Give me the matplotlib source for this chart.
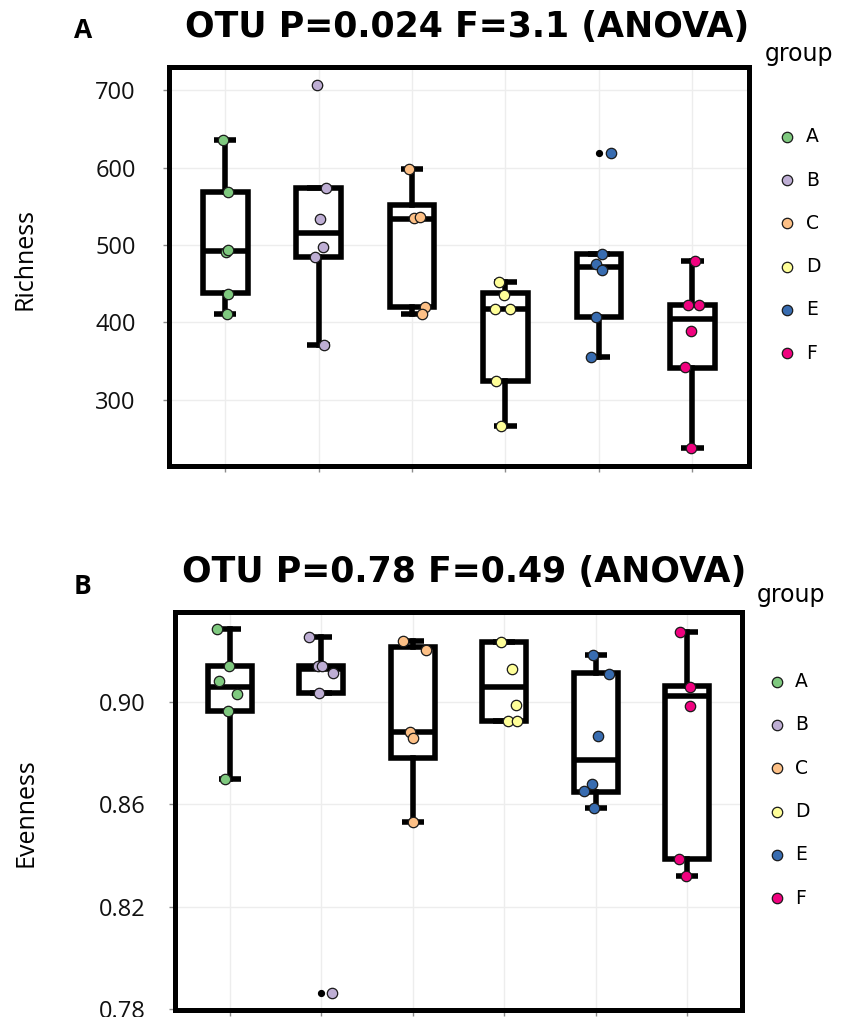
import matplotlib
matplotlib.use("Agg")
import matplotlib.pyplot as plt
from matplotlib.lines import Line2D

W, H = 848, 1017

groups = ["A", "B", "C", "D", "E", "F"]
colors = ["#7FC97F", "#BEAED4", "#FDC086", "#FFFF99", "#386CB0", "#F0027F"]

# Richness (OTU counts) per sample
rich_values = [
    [636, 568, 491, 493, 437, 411],
    [706, 573, 533, 497, 485, 371],
    [598, 535, 536, 420, 411],
    [452, 435, 418, 418, 324, 266],
    [619, 489, 475, 468, 407, 356],
    [479, 422, 422, 389, 342, 238],
]
rich_jitter = [
    [-0.02, 0.03, 0.015, 0.035, 0.036, 0.018],
    [-0.012, 0.083, 0.012, 0.051, -0.037, 0.054],
    [-0.031, 0.022, 0.083, 0.136, 0.107],
    [-0.065, -0.012, -0.108, 0.052, -0.1, -0.047],
    [0.134, 0.028, -0.036, 0.034, -0.03, -0.089],
    [0.029, -0.05, 0.071, -0.018, -0.078, -0.018],
]
# box summaries: lower whisker, Q1, median, Q3, upper whisker, outliers
rich_lo = [411, 371, 411, 266, 356, 238]
rich_q1 = [438, 485, 420, 324, 407, 341]
rich_med = [492, 515, 534, 418, 472, 405]
rich_q3 = [569, 573, 552, 438, 489, 423]
rich_hi = [636, 573, 598, 452, 489, 479]
rich_out = [[], [706], [], [], [619], []]

# Evenness per sample
even_values = [
    [0.9285, 0.9141, 0.9082, 0.9031, 0.8962, 0.8698],
    [0.9252, 0.9141, 0.9141, 0.9112, 0.9034, 0.7864],
    [0.9238, 0.9202, 0.8883, 0.8857, 0.8532],
    [0.9234, 0.9128, 0.8986, 0.8923, 0.8923],
    [0.9184, 0.9108, 0.8867, 0.8678, 0.8651, 0.8587],
    [0.9272, 0.9058, 0.8984, 0.8387, 0.8318],
]
even_jitter = [
    [-0.146, -0.011, -0.12, 0.08, -0.025, -0.055],
    [-0.135, -0.033, 0.011, 0.131, -0.022, 0.114],
    [-0.103, 0.146, -0.029, 0.0, 0.0],
    [-0.03, 0.084, 0.131, 0.04, 0.145],
    [-0.033, 0.142, 0.022, -0.04, -0.124, -0.014],
    [-0.081, 0.036, 0.036, -0.092, -0.008],
]
even_lo = [0.8698, 0.9034, 0.8532, 0.8923, 0.8587, 0.8318]
even_q1 = [0.8962, 0.9034, 0.8779, 0.8923, 0.8648, 0.8387]
even_med = [0.9056, 0.9127, 0.8883, 0.9056, 0.8773, 0.9024]
even_q3 = [0.9141, 0.9141, 0.9215, 0.9234, 0.9112, 0.9060]
even_hi = [0.9285, 0.9252, 0.9238, 0.9234, 0.9184, 0.9272]
even_out = [[], [0.7864], [], [], [], []]

rich_ticks = [300, 400, 500, 600, 700]
even_ticks = [0.78, 0.82, 0.86, 0.90]

TICK_FONT = "Open Sans"
TITLE_FONT = "DejaVu Sans"


def fx(x):
    return x / W


def fy(y):
    return 1 - y / H


def draw_panel(ax, values, jitter, lo, q1, med, q3, hi, out, ylim, ticks, fmt, pad):
    stats = []
    for i in range(len(groups)):
        stats.append({
            "whislo": lo[i], "q1": q1[i], "med": med[i],
            "q3": q3[i], "whishi": hi[i], "fliers": out[i],
        })
    ax.bxp(
        stats,
        positions=range(len(groups)),
        widths=0.48,
        capwidths=0.24,
        patch_artist=True,
        boxprops=dict(facecolor="white", edgecolor="black", linewidth=4.0),
        whiskerprops=dict(color="black", linewidth=4.0),
        capprops=dict(color="black", linewidth=4.0, solid_capstyle="butt"),
        medianprops=dict(color="black", linewidth=4.0, solid_capstyle="butt"),
        flierprops=dict(marker="o", markerfacecolor="black", markeredgecolor="black",
                        markersize=4.2),
        manage_ticks=False,
        zorder=2,
    )
    for i, (vals, jit) in enumerate(zip(values, jitter)):
        ax.scatter(
            [i + j for j in jit], vals,
            s=56, color=colors[i], edgecolors="#1a1a1a", linewidths=0.9, zorder=4,
        )

    ax.set_xlim(-0.6, 5.6)
    ax.set_ylim(*ylim)
    ax.set_xticks(range(len(groups)))
    ax.set_xticklabels([])
    ax.set_yticks(ticks)
    ax.set_yticklabels([fmt.format(t) for t in ticks], fontfamily=TICK_FONT, fontsize=17)
    ax.grid(True, color="#EDEDED", linewidth=1.0)
    ax.set_axisbelow(True)
    ax.tick_params(axis="both", direction="out", length=4, width=1.0, color="#8c8c8c",
                   labelcolor="#111111")
    ax.tick_params(axis="y", pad=pad)
    for spine in ax.spines.values():
        spine.set_linewidth(3.6)
        spine.set_color("black")


def draw_legend(fig, title_xy, marker_x, label_x, row_y):
    fig.text(fx(title_xy[0]), fy(title_xy[1]), "group", fontfamily=TITLE_FONT,
             fontsize=17, ha="left", va="baseline")
    for name, color, y in zip(groups, colors, row_y):
        fig.add_artist(Line2D([fx(marker_x)], [fy(y)], transform=fig.transFigure,
                              marker="o", markersize=7.5, markerfacecolor=color,
                              markeredgecolor="#1a1a1a", markeredgewidth=0.9, linestyle=""))
        fig.text(fx(label_x), fy(y), name, fontfamily=TITLE_FONT, fontsize=13.5,
                 ha="left", va="center")


fig = plt.figure(figsize=(W / 100, H / 100), dpi=100)

ax1 = fig.add_axes([fx(169), fy(466), (748.5 - 169) / W, (466 - 67) / H])
draw_panel(ax1, rich_values, rich_jitter, rich_lo, rich_q1, rich_med, rich_q3, rich_hi,
           rich_out, (214.8, 729.7), rich_ticks, "{:.0f}", 20)

ax2 = fig.add_axes([fx(175), fy(1009.5), (742 - 175) / W, (1009.5 - 612) / H])
draw_panel(ax2, even_values, even_jitter, even_lo, even_q1, even_med, even_q3, even_hi,
           even_out, (0.7799, 0.935), even_ticks, "{:.2f}", 17)

fig.text(fx(467), fy(27), "OTU P=0.024 F=3.1 (ANOVA)", fontfamily=TITLE_FONT,
         fontweight="bold", fontsize=25, ha="center", va="center")
fig.text(fx(464), fy(572), "OTU P=0.78 F=0.49 (ANOVA)", fontfamily=TITLE_FONT,
         fontweight="bold", fontsize=25, ha="center", va="center")

fig.text(fx(83), fy(31), "A", fontfamily=TICK_FONT, fontweight="bold", fontsize=19,
         ha="center", va="center")
fig.text(fx(82), fy(587), "B", fontfamily=TICK_FONT, fontweight="bold", fontsize=19,
         ha="center", va="center")

fig.text(fx(25), fy(259), "Richness", fontfamily=TICK_FONT, fontsize=18, rotation=90,
         ha="center", va="center")
fig.text(fx(26), fy(813), "Evenness", fontfamily=TICK_FONT, fontsize=18, rotation=90,
         ha="center", va="center")

draw_legend(fig, (765, 61), 787, 806, [136.7, 180, 223.3, 266.7, 310, 353.3])
draw_legend(fig, (757, 602), 777, 795, [681.7, 725, 768.3, 811.7, 855, 898.3])

fig.savefig("out.png", dpi=100)
